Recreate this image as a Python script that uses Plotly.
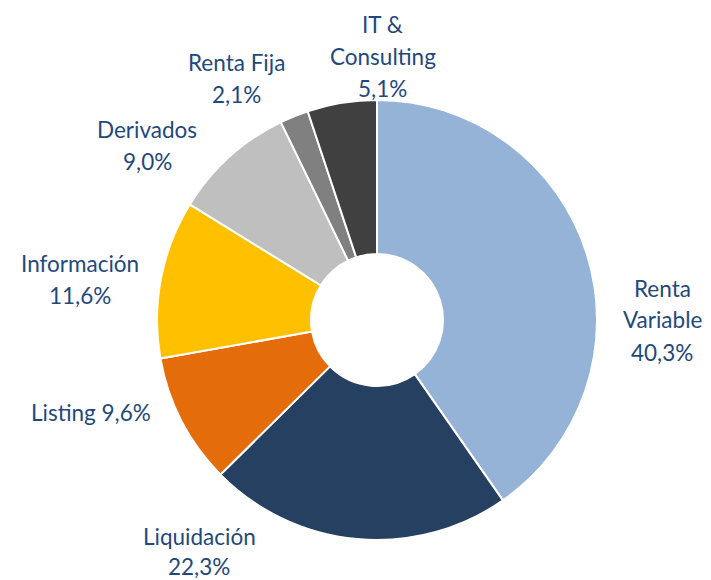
import plotly.graph_objects as go

categories = ["Renta Variable", "Liquidación", "Listing", "Información", "Derivados", "Renta Fija", "IT & Consulting"]
values = [40.3, 22.3, 9.6, 11.6, 9.0, 2.1, 5.1]
colors = ["#95B3D7", "#254061", "#E46C0A", "#FFC000", "#BFBFBF", "#808080", "#404040"]

# label text lines and their placement (pixel centres in the 711x580 reference)
label_lines = {
    "Renta Variable": (["Renta", "Variable", "40,3%"], 662, [288, 319, 352]),
    "Liquidación": (["Liquidación", "22,3%"], 199, [536, 566]),
    "Listing": (["Listing 9,6%"], 91, [412]),
    "Información": (["Información", "11,6%"], 80, [263, 295]),
    "Derivados": (["Derivados", "9,0%"], 147, [129, 161]),
    "Renta Fija": (["Renta Fija", "2,1%"], 236, [63, 95]),
    "IT & Consulting": (["IT &", "Consulting", "5,1%"], 383, [24, 56, 88]),
}

# the page body adds an 8px margin; compensate
OFF = 8
W, H = 711 - OFF, 580 - OFF


def px(x):
    return (x - OFF) / W


def py(y):
    return 1 - (y - OFF) / H


fig = go.Figure(go.Pie(
    labels=categories, values=values, sort=False, direction="clockwise", rotation=0,
    hole=0.3, marker=dict(colors=colors, line=dict(color="white", width=2)),
    textinfo="none", hoverinfo="label+percent", showlegend=False,
    domain=dict(x=[px(157), px(597)], y=[py(540), py(100)]),
))

annotations = []
for cat in categories:
    lines, cx, ys = label_lines[cat]
    for txt, cy in zip(lines, ys):
        annotations.append(dict(
            text=txt, x=px(cx), y=py(cy), xref="paper", yref="paper",
            xanchor="center", yanchor="middle", showarrow=False,
            font=dict(family="Lato", size=22.5, color="#1F497D"),
        ))

fig.update_layout(
    width=W, height=H, paper_bgcolor="white", plot_bgcolor="white",
    margin=dict(l=0, r=0, t=0, b=0),
    annotations=annotations,
)
fig.write_html("out.html")
